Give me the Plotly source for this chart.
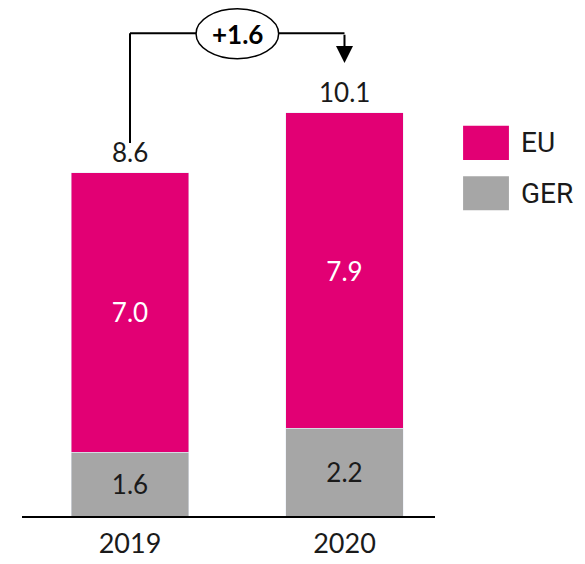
import plotly.graph_objects as go

years = ["2019", "2020"]
ger = [1.6, 2.2]
eu = [7.0, 7.9]
totals = [round(g + e, 1) for g, e in zip(ger, eu)]
delta_label = "+1.6"

EU_COLOR = "#E20074"
GER_COLOR = "#A6A6A6"
FONT = "Lato"

x = list(range(len(years)))

fig = go.Figure()
fig.add_bar(x=x, y=ger, name="GER", marker_color=GER_COLOR, width=0.55,
            text=[f"{v:.1f}" for v in ger], textposition="inside",
            insidetextanchor="middle",
            textfont=dict(family=FONT, size=26, color="#1a1a1a"))
fig.add_bar(x=x, y=eu, name="EU", marker_color=EU_COLOR, width=0.55,
            text=[f"{v:.1f}" for v in eu], textposition="inside",
            insidetextanchor="middle",
            textfont=dict(family=FONT, size=26, color="white"))

annotations = []
for xi, t in zip(x, totals):
    annotations.append(dict(x=xi, y=t, text=f"{t:.1f}", showarrow=False,
                            yanchor="bottom", yshift=3,
                            font=dict(family=FONT, size=26, color="#1a1a1a")))

top_y = 12.1
shapes = [
    dict(type="line", x0=0, x1=0, y0=9.35, y1=top_y, xref="x", yref="y",
         line=dict(color="black", width=2)),
    dict(type="line", x0=0, x1=1, y0=top_y, y1=top_y, xref="x", yref="y",
         line=dict(color="black", width=2)),
    dict(type="circle", x0=0.308, x1=0.693, y0=11.46, y1=12.71, xref="x", yref="y",
         line=dict(color="black", width=1.5), fillcolor="white"),
]
# arrow down to 2020 total
annotations.append(dict(x=1, y=11.35, ax=1, ay=top_y, xref="x", yref="y",
                        axref="x", ayref="y", showarrow=True, arrowhead=2,
                        arrowsize=1.7, arrowwidth=2, arrowcolor="black", text=""))
annotations.append(dict(x=0.499, y=12.08, text=f"<b>{delta_label}</b>", showarrow=False,
                        xref="x", yref="y",
                        font=dict(family=FONT, size=26, color="black")))

# custom legend
legend_items = [("EU", EU_COLOR, 0.768, 0.701), ("GER", GER_COLOR, 0.669, 0.602)]
for name, color, ytop, ybot in legend_items:
    shapes.append(dict(type="rect", xref="paper", yref="paper", x0=1.068, x1=1.179,
                       y0=ybot, y1=ytop, fillcolor=color, line=dict(width=0)))
    annotations.append(dict(xref="paper", yref="paper", x=1.203, y=(ytop + ybot) / 2,
                            text=name, showarrow=False, xanchor="left", yanchor="middle",
                            font=dict(family="Roboto", size=28, color="#1a1a1a")))

fig.update_layout(
    width=577, height=556,
    margin=dict(l=14, r=150, t=0, b=48),
    plot_bgcolor="white", paper_bgcolor="white",
    barmode="stack", showlegend=False,
    shapes=shapes, annotations=annotations,
    xaxis=dict(range=[-0.5035, 1.422], tickvals=x, ticktext=years,
               showline=True, linecolor="black", linewidth=2, showgrid=False,
               zeroline=False, ticks="", ticklabelstandoff=3,
               tickfont=dict(family=FONT, size=27, color="#1a1a1a")),
    yaxis=dict(range=[0, 12.73], visible=False, showgrid=False, zeroline=False),
)

fig.write_html("out.html")
